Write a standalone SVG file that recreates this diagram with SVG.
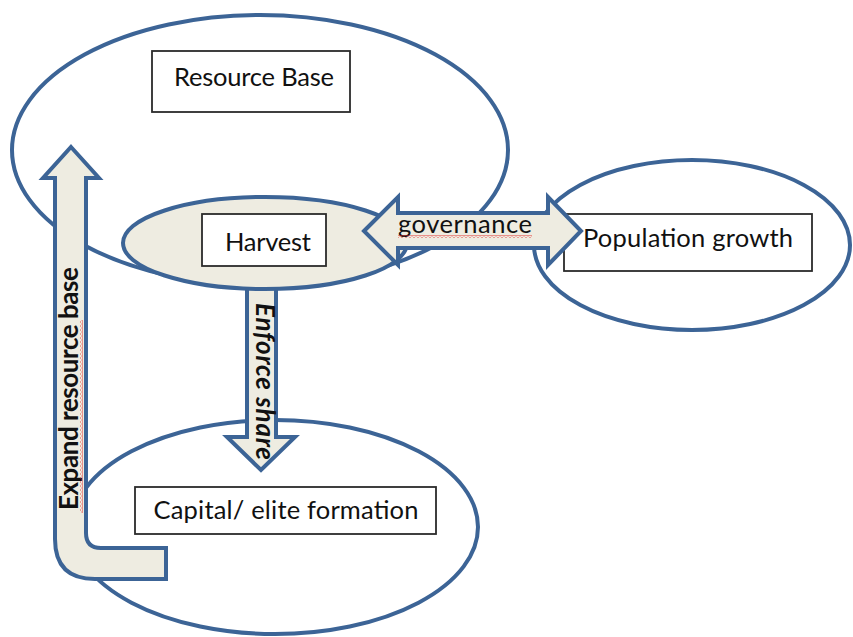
<svg xmlns="http://www.w3.org/2000/svg" width="853" height="637" viewBox="0 0 853 637">
  <defs>
    <style>
      .oval { fill: none; stroke: #3C6496; stroke-width: 4; }
      .arrow { fill: #EEECE1; stroke: #3C6496; stroke-width: 4; stroke-linejoin: miter; }
      .box { fill: #FFFFFF; stroke: #2B2B2B; stroke-width: 1.8; }
      .lbl { font-family: Lato, "Open Sans", sans-serif; font-size: 25.5px; fill: #111; text-anchor: middle; }
      .alb { font-family: Lato, "Open Sans", sans-serif; font-size: 26px; fill: #111; font-weight: bold; }
      .sq { fill: url(#squig); }
    </style>
    <pattern id="squig" x="0" y="0" width="4" height="3" patternUnits="userSpaceOnUse">
      <polyline points="0,2.5 2,0.5 4,2.5" fill="none" stroke="#E02020" stroke-width="0.9"/>
    </pattern>
  </defs>

  <g id="capital-oval">
    <ellipse class="oval" cx="275" cy="527" rx="203" ry="107" style="fill:#FFFFFF"/>
  </g>

  <g id="resource-oval">
    <ellipse class="oval" cx="260" cy="150" rx="248" ry="135"/>
  </g>

  <g id="connectors">
    <g id="enforce-share">
      <path class="arrow" d="M247,270 L247,437 L227,437 L261,470 L295,437 L276,437 L276,270 Z"/>
    </g>
  </g>

  <g id="harvest-oval">
    <ellipse cx="265" cy="243" rx="142" ry="46" fill="#EEECE1" stroke="#3C6496" stroke-width="4"/>
  </g>

  <g id="population-oval">
    <ellipse class="oval" cx="692" cy="245" rx="158" ry="85"/>
  </g>

  <g id="population-growth">
    <rect class="box" x="564" y="214" width="248" height="57"/>
    <text class="lbl" x="688" y="247" textLength="210">Population growth</text>
  </g>

  <g id="connectors-top">
    <g id="governance">
      <path class="arrow" d="M364,231 L398,197 L398,213 L548,213 L548,197 L581,231 L548,265 L548,248 L398,248 L398,265 Z"/>
      <text class="lbl" x="465" y="233" textLength="134">governance</text>
      <rect class="sq" x="398" y="235" width="134" height="3"/>
    </g>
    <g id="expand-resource-base">
      <path class="arrow" d="M71,147 L99,178 L86,178 L86,533 Q86,548 101,548 L166,548 L166,579 L95,579 Q55,579 55,539 L55,178 L43,178 Z"/>
      <text class="alb" transform="translate(78,510) rotate(-90)" x="0" y="0" textLength="243">Expand resource base</text>
      <rect class="sq" x="320" y="-83" width="193" height="3" transform="rotate(90)"/>
    </g>
    <g id="enforce-label">
      <text class="alb" transform="translate(256,303) rotate(90)" x="0" y="0" textLength="157" style="font-style:italic">Enforce share</text>
    </g>
  </g>

  <g id="resource-base">
    <rect class="box" x="152" y="51" width="198" height="61"/>
    <text class="lbl" x="254" y="86" textLength="160">Resource Base</text>
  </g>

  <g id="harvest">
    <rect class="box" x="202" y="214" width="124" height="52"/>
    <text class="lbl" x="268" y="251" textLength="86">Harvest</text>
  </g>

  <g id="capital-elite">
    <rect class="box" x="135" y="487" width="301" height="47"/>
    <text class="lbl" x="286" y="519" textLength="265">Capital/ elite formation</text>
  </g>
</svg>
